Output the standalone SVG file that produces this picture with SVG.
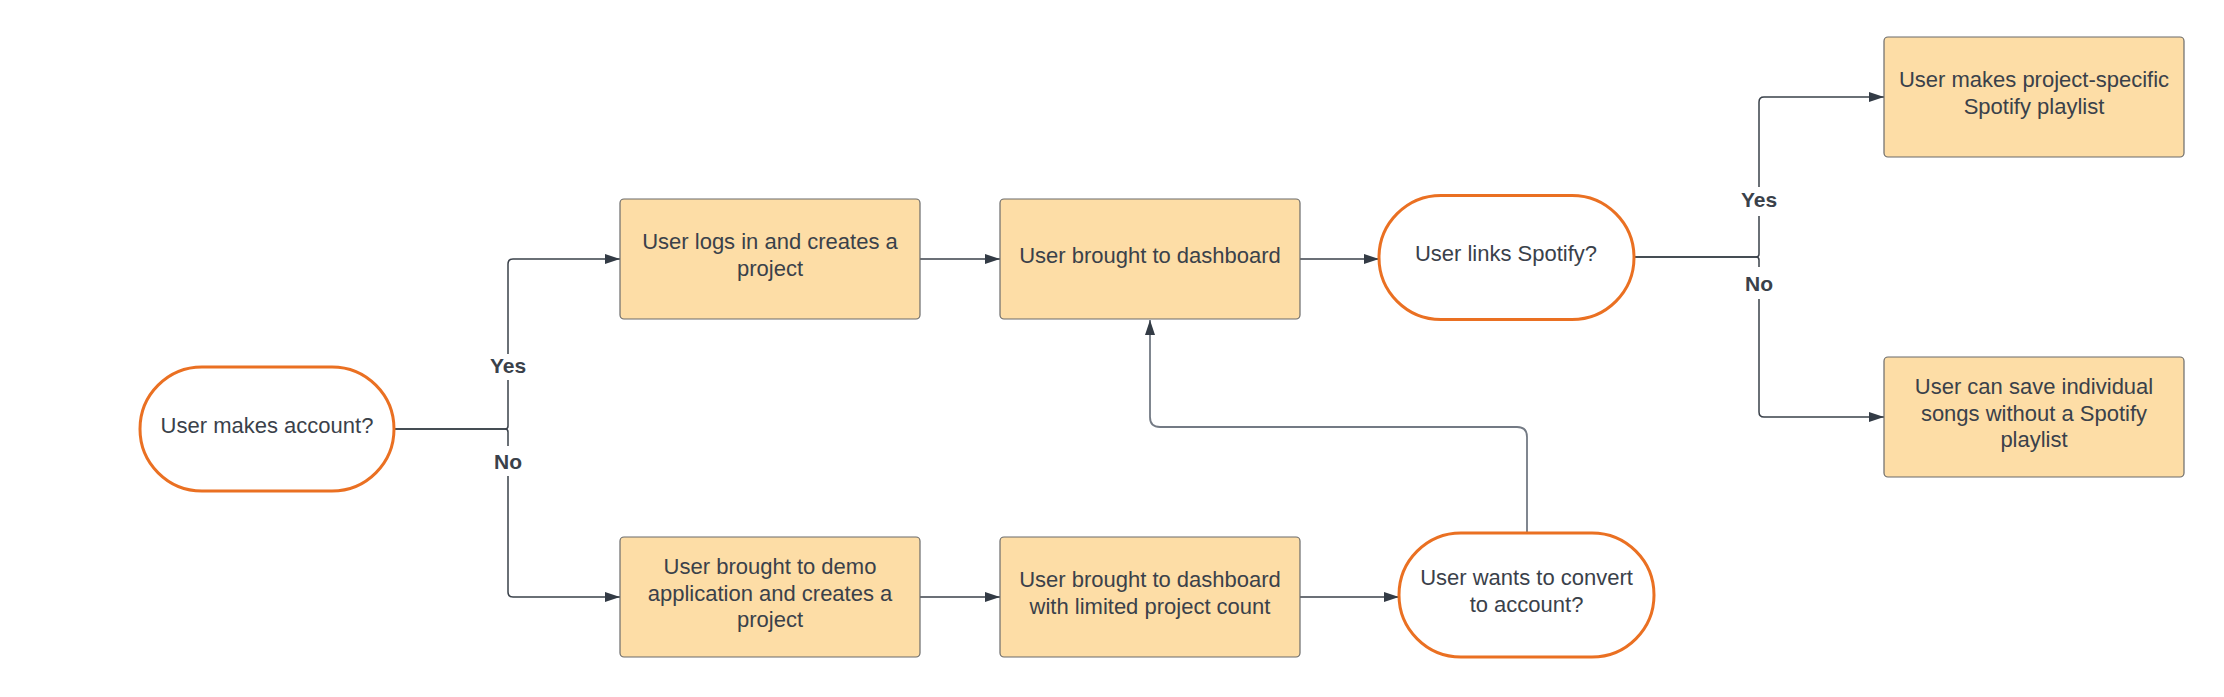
<svg xmlns="http://www.w3.org/2000/svg" width="2224" height="697" viewBox="0 0 2224 697">
<style>
.box{fill:#fddda6;stroke:#6b6b6b;stroke-width:1.2}
.term{fill:#ffffff;stroke:#ea7022;stroke-width:3}
.t{font-family:"Liberation Sans",Arial,sans-serif;font-size:22px;fill:#3a414a;text-anchor:middle}
.lbl{font-family:"Liberation Sans",Arial,sans-serif;font-size:21px;font-weight:bold;fill:#3a414a;text-anchor:middle}
.c{fill:none;stroke:#3a414a;stroke-width:1.5}
.c2{fill:none;stroke:#737a84;stroke-width:1.8}
.bg{fill:#ffffff}
</style>
<defs>
<marker id="ah" markerUnits="userSpaceOnUse" markerWidth="16" markerHeight="11" refX="15" refY="5" orient="auto">
<path d="M0,0 L15,5 L0,10 z" fill="#333b45"/>
</marker>
</defs>
<rect width="2224" height="697" fill="#ffffff"/>
<g id="connectors">
<path class="c" d="M394,429 H505 Q508,429 508,426 V264 Q508,259 513,259 H620" marker-end="url(#ah)"/>
<path class="c" d="M394,429 H505 Q508,429 508,432 V592 Q508,597 513,597 H620" marker-end="url(#ah)"/>
<path class="c" d="M920,259 H1000" marker-end="url(#ah)"/>
<path class="c" d="M920,597 H1000" marker-end="url(#ah)"/>
<path class="c" d="M1300,259 H1379" marker-end="url(#ah)"/>
<path class="c" d="M1300,597 H1399" marker-end="url(#ah)"/>
<path class="c2" d="M1527,533 V437 Q1527,427 1517,427 H1160 Q1150,427 1150,417 V320" marker-end="url(#ah)"/>
<path class="c" d="M1634,257 H1756 Q1759,257 1759,254 V102 Q1759,97 1764,97 H1884" marker-end="url(#ah)"/>
<path class="c" d="M1634,257 H1756 Q1759,257 1759,260 V412 Q1759,417 1764,417 H1884" marker-end="url(#ah)"/>
<rect class="bg" x="486" y="354" width="44" height="26"/>
<text class="lbl" x="508" y="372.5">Yes</text>
<rect class="bg" x="490" y="446" width="36" height="30"/>
<text class="lbl" x="508" y="468.5">No</text>
<rect class="bg" x="1737" y="187" width="44" height="29"/>
<text class="lbl" x="1759" y="207">Yes</text>
<rect class="bg" x="1741" y="267" width="36" height="32"/>
<text class="lbl" x="1759" y="290.5">No</text>
</g>
<g id="n-account">
<rect class="term" x="140" y="367" width="254" height="124" rx="62" ry="62"/>
<text class="t" x="267" y="432.5">User makes account?</text>
</g>
<g id="n-login">
<rect class="box" x="620" y="199" width="300" height="120" rx="4"/>
<text class="t" x="770" y="249.3">User logs in and creates a</text>
<text class="t" x="770" y="276">project</text>
</g>
<g id="n-dashboard">
<rect class="box" x="1000" y="199" width="300" height="120" rx="4"/>
<text class="t" x="1150" y="262.7">User brought to dashboard</text>
</g>
<g id="n-spotify">
<rect class="term" x="1379" y="195.5" width="255" height="124" rx="62" ry="62"/>
<text class="t" x="1506" y="261">User links Spotify?</text>
</g>
<g id="n-playlist">
<rect class="box" x="1884" y="37" width="300" height="120" rx="4"/>
<text class="t" x="2034" y="87.4">User makes project-specific</text>
<text class="t" x="2034" y="114">Spotify playlist</text>
</g>
<g id="n-save">
<rect class="box" x="1884" y="357" width="300" height="120" rx="4"/>
<text class="t" x="2034" y="394">User can save individual</text>
<text class="t" x="2034" y="420.7">songs without a Spotify</text>
<text class="t" x="2034" y="447.4">playlist</text>
</g>
<g id="n-demo">
<rect class="box" x="620" y="537" width="300" height="120" rx="4"/>
<text class="t" x="770" y="574">User brought to demo</text>
<text class="t" x="770" y="600.7">application and creates a</text>
<text class="t" x="770" y="627.4">project</text>
</g>
<g id="n-limited">
<rect class="box" x="1000" y="537" width="300" height="120" rx="4"/>
<text class="t" x="1150" y="587.4">User brought to dashboard</text>
<text class="t" x="1150" y="614">with limited project count</text>
</g>
<g id="n-convert">
<rect class="term" x="1399" y="533" width="255" height="124" rx="62" ry="62"/>
<text class="t" x="1526.5" y="585.4">User wants to convert</text>
<text class="t" x="1526.5" y="612">to account?</text>
</g>
</svg>
